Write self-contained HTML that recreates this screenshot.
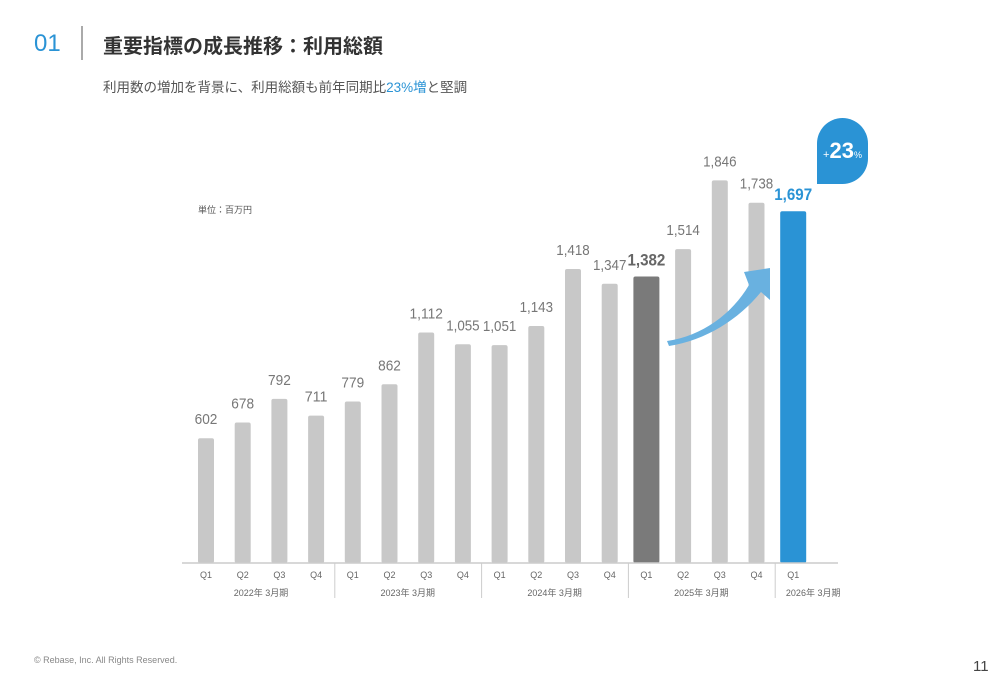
<!DOCTYPE html>
<html><head><meta charset="utf-8"><style>
body{margin:0;width:1000px;height:685px;background:#fff;font-family:"Liberation Sans","Noto Sans CJK JP",sans-serif;position:relative;overflow:hidden}
.abs{position:absolute}
</style></head><body>
<div class="abs" style="left:34px;top:30px;font-size:24px;color:#2a93d5">01</div>
<div class="abs" style="left:81px;top:26px;width:2px;height:34px;background:#aaa"></div>
<div class="abs" style="left:103px;top:30px;font-size:20px;font-weight:bold;color:#333">重要指標の成長推移：利用総額</div>
<div class="abs" style="left:103px;top:76px;font-size:13.5px;color:#555">利用数の増加を背景に、利用総額も前年同期比<span style="color:#2a93d5">23%増</span>と堅調</div>
<div class="abs" style="left:198px;top:203px;font-size:9px;color:#555">単位：百万円</div>
<div class="abs" style="left:34px;top:655px;font-size:9px;color:#888">© Rebase, Inc. All Rights Reserved.</div>
<div class="abs" style="left:973px;top:658px;font-size:15px;color:#444">11</div>
<svg id="chart" class="abs" style="left:0;top:0" width="1000" height="685"></svg>
<script>
const categories=["Q1","Q2","Q3","Q4","Q1","Q2","Q3","Q4","Q1","Q2","Q3","Q4","Q1","Q2","Q3","Q4","Q1"];
const values=[602,678,792,711,779,862,1112,1055,1051,1143,1418,1347,1382,1514,1846,1738,1697];
const labels=["602","678","792","711","779","862","1,112","1,055","1,051","1,143","1,418","1,347","1,382","1,514","1,846","1,738","1,697"];
const years=["2022年 3月期","2023年 3月期","2024年 3月期","2025年 3月期","2026年 3月期"];
const svg=document.getElementById('chart');
const NS="http://www.w3.org/2000/svg";
const base=563, scale=0.2073;
const x=i=>206+i*36.7;
const y=v=>base-v*scale;
function mk(t,a){const e=document.createElementNS(NS,t);for(const k in a)e.setAttribute(k,a[k]);svg.appendChild(e);return e;}
values.forEach((v,i)=>{
  const hi=i===12||i===16;
  const w=hi?26:16;
  const col=i===12?'#7a7a7a':i===16?'#2a93d5':'#c8c8c8';
  const r=mk('rect',{x:x(i)-w/2,y:y(v),width:w,height:base-y(v),fill:col,rx:2});
  
  
  const s=labels[i];
  const nd=s.replace(/,/g,'').length, nc=s.length-nd;
  const len=hi?nd*8.6+nc*3.5:nd*7.6+nc*3;
  const t=mk('text',{x:x(i),y:y(v)-(hi?11:14),'text-anchor':'middle','font-size':hi?17:15,'font-weight':hi?'bold':'normal',fill:i===12?'#666':i===16?'#2a93d5':'#777','font-family':'Liberation Sans',textLength:len,lengthAdjust:'spacingAndGlyphs'});
  t.textContent=s;
  
  
  const q=mk('text',{x:x(i),y:578,'text-anchor':'middle','font-size':9,fill:'#666'});
  q.textContent=categories[i];
  
  
});
const ax=mk('line',{x1:182,x2:838,y1:base,y2:base,stroke:'#ccc','stroke-width':1.5});


years.forEach((yr,j)=>{
  const cx=j<4?x(j*4)+55:x(16)+20;
  const t=mk('text',{x:cx,y:596,'text-anchor':'middle','font-size':9,fill:'#666'});
  t.textContent=yr;
  
  
  if(j>0){const l=mk('line',{x1:x(j*4)-18,x2:x(j*4)-18,y1:base,y2:598,stroke:'#ccc'});
  
  }
});
</script>
<svg class="abs" style="left:0;top:0" width="1000" height="685">
<path d="M667 341 C702 336 732 314 749 285 L744 272 L770 268 L770 300 L761 292 C738 320 706 340 669 346 Z" fill="#69b1e0"/>
</svg>
<div class="abs" style="left:817px;top:118px;width:51px;height:66px;background:#2a93d5;border-radius:26px 26px 26px 0;color:#fff;text-align:center">
<div style="margin-top:20px;font-size:11px;white-space:nowrap"><span>+</span><b style="font-size:22px">23</b><span style="font-size:9px">%</span></div></div>
</body></html>
